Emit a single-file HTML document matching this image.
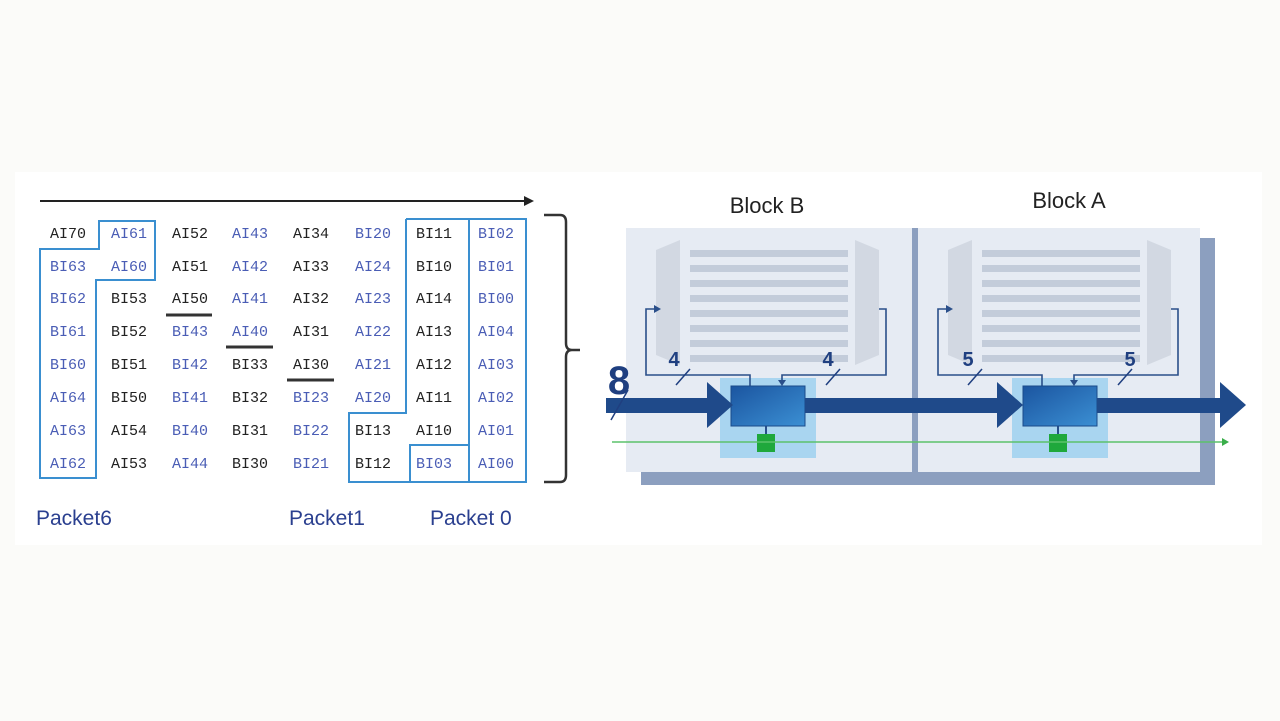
<!DOCTYPE html>
<html><head><meta charset="utf-8"><style>
html,body{margin:0;padding:0;background:#fbfbf9;}
svg{display:block}
.t{font-family:"Liberation Mono",monospace;font-size:15px;text-anchor:middle;}
.k{fill:#222}
.b{fill:#4a5db5}
.p{font-family:"Liberation Sans",sans-serif;font-size:21px;fill:#2a3f8f}
</style></head><body>
<svg width="1280" height="721" viewBox="0 0 1280 721" xmlns="http://www.w3.org/2000/svg">
<defs>
<linearGradient id="g" x1="0" y1="0" x2="1" y2="1"><stop offset="0" stop-color="#1b55a0"/><stop offset="1" stop-color="#3b8fd3"/></linearGradient>
</defs>
<rect x="15" y="172" width="1247" height="373" fill="#ffffff"/>
<line x1="40" y1="201" x2="526" y2="201" stroke="#222" stroke-width="2"/>
<polygon points="534,201 524,196 524,206" fill="#222"/>
<g class="t">
<text x="68" y="238" class="k">AI70</text><text x="129" y="238" class="b">AI61</text><text x="190" y="238" class="k">AI52</text><text x="250" y="238" class="b">AI43</text><text x="311" y="238" class="k">AI34</text><text x="373" y="238" class="b">BI20</text><text x="434" y="238" class="k">BI11</text><text x="496" y="238" class="b">BI02</text>
<text x="68" y="271" class="b">BI63</text><text x="129" y="271" class="b">AI60</text><text x="190" y="271" class="k">AI51</text><text x="250" y="271" class="b">AI42</text><text x="311" y="271" class="k">AI33</text><text x="373" y="271" class="b">AI24</text><text x="434" y="271" class="k">BI10</text><text x="496" y="271" class="b">BI01</text>
<text x="68" y="303" class="b">BI62</text><text x="129" y="303" class="k">BI53</text><text x="190" y="303" class="k">AI50</text><text x="250" y="303" class="b">AI41</text><text x="311" y="303" class="k">AI32</text><text x="373" y="303" class="b">AI23</text><text x="434" y="303" class="k">AI14</text><text x="496" y="303" class="b">BI00</text>
<text x="68" y="336" class="b">BI61</text><text x="129" y="336" class="k">BI52</text><text x="190" y="336" class="b">BI43</text><text x="250" y="336" class="b">AI40</text><text x="311" y="336" class="k">AI31</text><text x="373" y="336" class="b">AI22</text><text x="434" y="336" class="k">AI13</text><text x="496" y="336" class="b">AI04</text>
<text x="68" y="369" class="b">BI60</text><text x="129" y="369" class="k">BI51</text><text x="190" y="369" class="b">BI42</text><text x="250" y="369" class="k">BI33</text><text x="311" y="369" class="k">AI30</text><text x="373" y="369" class="b">AI21</text><text x="434" y="369" class="k">AI12</text><text x="496" y="369" class="b">AI03</text>
<text x="68" y="402" class="b">AI64</text><text x="129" y="402" class="k">BI50</text><text x="190" y="402" class="b">BI41</text><text x="250" y="402" class="k">BI32</text><text x="311" y="402" class="b">BI23</text><text x="373" y="402" class="b">AI20</text><text x="434" y="402" class="k">AI11</text><text x="496" y="402" class="b">AI02</text>
<text x="68" y="435" class="b">AI63</text><text x="129" y="435" class="k">AI54</text><text x="190" y="435" class="b">BI40</text><text x="250" y="435" class="k">BI31</text><text x="311" y="435" class="b">BI22</text><text x="373" y="435" class="k">BI13</text><text x="434" y="435" class="k">AI10</text><text x="496" y="435" class="b">AI01</text>
<text x="68" y="468" class="b">AI62</text><text x="129" y="468" class="k">AI53</text><text x="190" y="468" class="b">AI44</text><text x="250" y="468" class="k">BI30</text><text x="311" y="468" class="b">BI21</text><text x="373" y="468" class="k">BI12</text><text x="434" y="468" class="b">BI03</text><text x="496" y="468" class="b">AI00</text>
</g>
<g stroke="#333" stroke-width="3">
<line x1="166" y1="315" x2="212" y2="315"/><line x1="226" y1="347" x2="273" y2="347"/><line x1="287" y1="380" x2="334" y2="380"/>
</g>
<g fill="none" stroke="#3a8fd0" stroke-width="2">
<path d="M99,221 H155 V280 H96 V478 H40 V249 H99 Z"/>
<rect x="469" y="219" width="57" height="263"/>
<path d="M406,219 H469 M406,219 V413 H349 V482 H469 M469,445 H410 V482"/>
</g>
<path d="M544,215 H560 Q566,215 566,222 V343 Q566,350 572,350 H580 M572,350 Q566,350 566,357 V475 Q566,482 560,482 H544" fill="none" stroke="#333" stroke-width="2.5"/>
<text x="36" y="525" class="p">Packet6</text>
<text x="289" y="525" class="p">Packet1</text>
<text x="430" y="525" class="p">Packet 0</text>

<rect x="641" y="238" width="574" height="247" fill="#8c9fbf"/>
<rect x="626" y="228" width="286" height="244" fill="#e6ebf3"/>
<rect x="918" y="228" width="282" height="244" fill="#e6ebf3"/>
<rect x="912" y="228" width="6" height="244" fill="#8c9fbf"/>
<text x="767" y="213" font-family="Liberation Sans,sans-serif" font-size="22" text-anchor="middle" fill="#222">Block B</text>
<text x="1069" y="208" font-family="Liberation Sans,sans-serif" font-size="22" text-anchor="middle" fill="#222">Block A</text>

<g id="blk">
<polygon points="656,250 680,240 680,365 656,355" fill="#d2d8e2"/>
<polygon points="855,240 879,250 879,355 855,365" fill="#d2d8e2"/>
<g fill="#c3ccda">
<rect x="690" y="250" width="158" height="7"/><rect x="690" y="265" width="158" height="7"/><rect x="690" y="280" width="158" height="7"/><rect x="690" y="295" width="158" height="7"/><rect x="690" y="310" width="158" height="7"/><rect x="690" y="325" width="158" height="7"/><rect x="690" y="340" width="158" height="7"/><rect x="690" y="355" width="158" height="7"/>
</g>
<rect x="720" y="378" width="96" height="80" fill="#a9d5f0"/>
<path d="M750,386 V375 H646 V309 H656" fill="none" stroke="#2a4f8a" stroke-width="1.6"/>
<polygon points="661,309 654,305 654,313" fill="#2a4f8a"/>
<path d="M879,309 H886 V375 H782 V381" fill="none" stroke="#2a4f8a" stroke-width="1.6"/>
<polygon points="782,386 778,380 786,380" fill="#2a4f8a"/>
<line x1="766" y1="426" x2="766" y2="436" stroke="#2a4f8a" stroke-width="2"/>
<rect x="731" y="386" width="74" height="40" fill="url(#g)" stroke="#1a4a8a" stroke-width="1"/>
<rect x="757" y="434" width="18" height="18" fill="#1fa83c"/>
<line x1="676" y1="385" x2="690" y2="369" stroke="#1f3f80" stroke-width="1.5"/>
<line x1="826" y1="385" x2="840" y2="369" stroke="#1f3f80" stroke-width="1.5"/>
</g>
<use href="#blk" transform="translate(292,0)"/>
<g font-family="Liberation Sans,sans-serif" font-weight="bold" font-size="20" fill="#1f3f80" text-anchor="middle">
<text x="674" y="366">4</text><text x="828" y="366">4</text><text x="968" y="366">5</text><text x="1130" y="366">5</text>
</g>
<line x1="612" y1="442" x2="1224" y2="442" stroke="#5cc26b" stroke-width="1.5"/>
<polygon points="1229,442 1222,438 1222,446" fill="#3aae4a"/>
<g fill="#1f4a8a">
<rect x="606" y="398" width="104" height="15"/><polygon points="707,382 733,405 707,428"/>
<rect x="805" y="398" width="195" height="15"/><polygon points="997,382 1023,405 997,428"/>
<rect x="1097" y="398" width="126" height="15"/><polygon points="1220,382 1246,405 1220,428"/>
</g>
<line x1="611" y1="420" x2="628" y2="390" stroke="#1f3f80" stroke-width="1.5"/>
<text x="619" y="394" font-family="Liberation Sans,sans-serif" font-weight="bold" font-size="40" fill="#1f3f80" text-anchor="middle">8</text>
</svg>
</body></html>
